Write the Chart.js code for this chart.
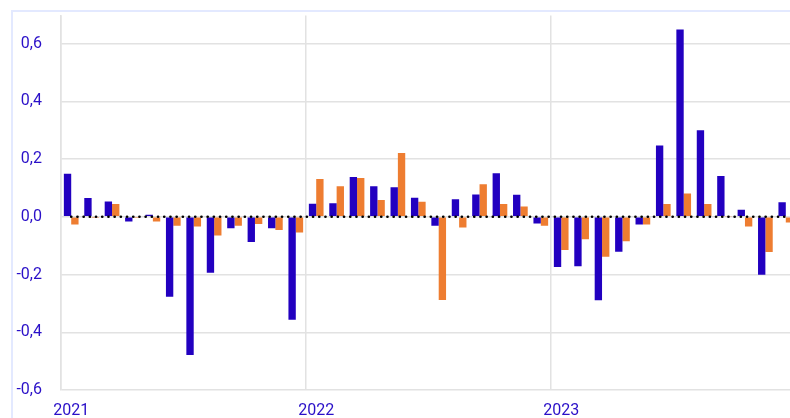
<!DOCTYPE html>
<html>
<head>
<meta charset="utf-8">
<script src="https://cdn.jsdelivr.net/npm/chart.js@4.4.1/dist/chart.umd.min.js"></script>
<style>
  html, body { margin: 0; padding: 0; background: #fff; overflow: hidden; width: 790px; height: 418px; }
  #frame { position: absolute; left: 11px; top: 10px; width: 900px; height: 500px;
           border-left: 2px solid #e3e9ff; border-top: 2px solid #e3e9ff; }
  #c { position: absolute; left: 0; top: 0; }
</style>
</head>
<body>
<div id="frame"></div>
<canvas id="c" width="810" height="418"></canvas>
<script>
const years = ["2021", "2022", "2023"];
const months = [];
years.forEach(y => { for (let m = 1; m <= 12; m++) months.push(y + "-" + (m < 10 ? "0" + m : m)); });

const seriesBlue = [
  0.149, 0.065, 0.053, -0.016, 0.007, -0.277, -0.479, -0.194, -0.040, -0.087, -0.040, -0.357,
  0.045, 0.047, 0.138, 0.106, 0.102, 0.066, -0.031, 0.061, 0.077, 0.151, 0.076, -0.023,
  -0.174, -0.171, -0.289, -0.121, -0.027, 0.247, 0.649, 0.300, 0.141, 0.024, -0.201, 0.050
];
const seriesOrange = [
  -0.027, -0.004, 0.044, -0.004, -0.016, -0.031, -0.034, -0.065, -0.031, -0.025, -0.046, -0.054,
  0.131, 0.106, 0.134, 0.058, 0.221, 0.052, -0.288, -0.037, 0.113, 0.044, 0.036, -0.031,
  -0.115, -0.078, -0.138, -0.085, -0.027, 0.044, 0.081, 0.044, 0.002, -0.034, -0.122, -0.020
];
const zeroLine = months.map(() => 0);
const yTicks = [-0.6, -0.4, -0.2, 0, 0.2, 0.4, 0.6];

const textColor = "#2a10c8";
const gridColor = "#e2e2e2";

new Chart(document.getElementById("c"), {
  type: "bar",
  data: {
    labels: months,
    datasets: [
      { type: "line", data: zeroLine, borderColor: "#000", borderWidth: 2.6,
        borderCapStyle: "round", borderDash: [0.1, 6.1], pointRadius: 0, order: 0 },
      { data: seriesBlue, backgroundColor: "#2200c0", borderWidth: 0,
        categoryPercentage: 0.72, barPercentage: 1.0, order: 1 },
      { data: seriesOrange, backgroundColor: "#ee7d31", borderWidth: 0,
        categoryPercentage: 0.72, barPercentage: 1.0, order: 1 }
    ]
  },
  options: {
    responsive: false,
    animation: false,
    events: [],
    layout: { padding: { left: 12, top: 5, right: 14, bottom: 0 } },
    plugins: { legend: { display: false }, tooltip: { enabled: false } },
    scales: {
      x: {
        grid: {
          offset: true,
          drawTicks: false,
          color: ctx => (ctx.index !== undefined && ctx.index % 12 === 0) ? gridColor : "rgba(0,0,0,0)",
          lineWidth: 1.5
        },
        border: { display: false },
        ticks: {
          autoSkip: false,
          maxRotation: 0,
          padding: 11,
          color: textColor,
          font: { family: "Roboto", size: 16 },
          callback: function (v, i) { const l = months[i]; return l.endsWith("-01") ? l.slice(0, 4) : ""; }
        },
        afterFit: s => { s.height = 28; }
      },
      y: {
        min: -0.6,
        max: 0.697,
        afterBuildTicks: s => { s.ticks = yTicks.map(v => ({ value: v })); },
        grid: { drawTicks: true, tickLength: 13, tickColor: "rgba(0,0,0,0)", color: gridColor, lineWidth: 1.5 },
        border: { display: true, color: gridColor, width: 1.5 },
        ticks: {
          padding: 6,
          color: textColor,
          font: { family: "Roboto", size: 16 },
          callback: v => v.toFixed(1).replace(".", ",")
        },
        afterFit: s => { s.width = 49; }
      }
    }
  }
});
</script>
</body>
</html>
